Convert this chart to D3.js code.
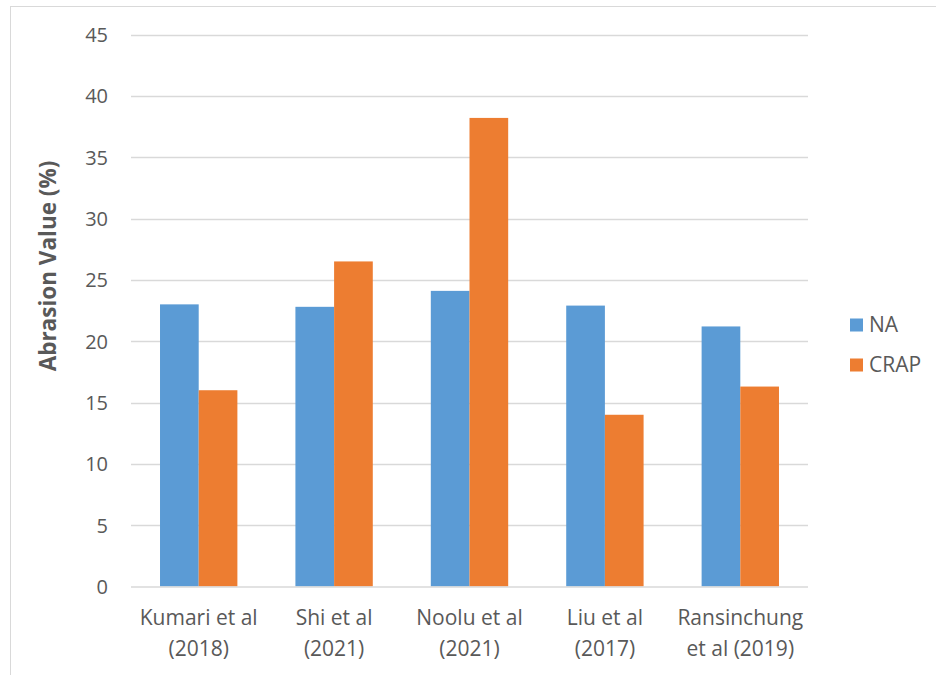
<!DOCTYPE html>
<html>
<head>
<meta charset="utf-8">
<script src="https://cdn.jsdelivr.net/npm/d3@7/dist/d3.min.js"></script>
<style>
  html, body { margin: 0; padding: 0; background: #fff; }
  svg { display: block; font-family: "Open Sans", "Liberation Sans", sans-serif; }
</style>
</head>
<body>
<svg id="chart" width="936" height="675"></svg>
<script>
// Studies compared (two-line labels)
const categories = [
  ["Kumari et al", "(2018)"],
  ["Shi et al", "(2021)"],
  ["Noolu et al", "(2021)"],
  ["Liu et al", "(2017)"],
  ["Ransinchung", "et al (2019)"]
];
const seriesNames = ["NA", "CRAP"];
const naValues   = [23.0, 22.8, 24.1, 22.9, 21.2];
const crapValues = [16.0, 26.5, 38.2, 14.0, 16.3];
const yTicks = [0, 5, 10, 15, 20, 25, 30, 35, 40, 45];
const colors = ["#5b9bd5", "#ed7d31"];

const svg = d3.select("#chart");
const W = 936, H = 675;
const plot = { left: 131, right: 808, top: 34.5, bottom: 586.5 };

// Outer chart frame
svg.append("rect")
  .attr("x", 10.5).attr("y", 6.5)
  .attr("width", W + 10).attr("height", H + 10)
  .attr("fill", "#fff").attr("stroke", "#d9d9d9").attr("stroke-width", 1);

const x0 = d3.scaleBand()
  .domain(d3.range(categories.length))
  .range([plot.left, plot.right])
  .paddingInner(0).paddingOuter(0);

const bandW = x0.bandwidth();
const barW = bandW / 3.5;   // gap width 150%

const y = d3.scaleLinear().domain([0, 45]).range([plot.bottom, plot.top]);

// Gridlines
svg.append("g")
  .selectAll("line")
  .data(yTicks.filter(t => t > 0))
  .join("line")
  .attr("x1", plot.left).attr("x2", plot.right)
  .attr("y1", d => Math.round(y(d)) + 0.5).attr("y2", d => Math.round(y(d)) + 0.5)
  .attr("stroke", "#d9d9d9").attr("stroke-width", 1.5);

// Y-axis tick labels
const yAxis = d3.axisLeft(y).tickValues(yTicks).tickSize(0).tickPadding(0);
const gy = svg.append("g")
  .attr("transform", `translate(${108},0)`)
  .call(yAxis);
gy.select(".domain").remove();
gy.selectAll("text")
  .attr("fill", "#595959")
  .style("font-size", "20px")
  .style("font-family", "\"Open Sans\", sans-serif")
  .attr("dy", "0.35em");

// Bars
const series = [naValues, crapValues];
series.forEach((vals, si) => {
  svg.append("g")
    .selectAll("rect")
    .data(vals)
    .join("rect")
    .attr("x", (d, i) => x0(i) + (bandW - 2 * barW) / 2 + si * barW)
    .attr("y", d => y(d))
    .attr("width", barW)
    .attr("height", d => y(0) - y(d))
    .attr("fill", colors[si]);
});

// Category axis line
svg.append("line")
  .attr("x1", plot.left).attr("x2", plot.right)
  .attr("y1", plot.bottom + 0.5).attr("y2", plot.bottom + 0.5)
  .attr("stroke", "#d9d9d9").attr("stroke-width", 1.5);

// Category labels
const catG = svg.append("g");
categories.forEach((lines, i) => {
  const t = catG.append("text")
    .attr("x", x0(i) + bandW / 2)
    .attr("y", 625)
    .attr("text-anchor", "middle")
    .attr("fill", "#595959")
    .style("font-size", "21px");
  lines.forEach((ln, k) => {
    t.append("tspan")
      .attr("x", x0(i) + bandW / 2)
      .attr("dy", k === 0 ? 0 : 31)
      .text(ln);
  });
});

// Y-axis title
svg.append("text")
  .attr("transform", `translate(56,266) rotate(-90)`)
  .attr("text-anchor", "middle")
  .attr("fill", "#595959")
  .style("font-size", "22.5px")
  .style("font-weight", "bold")
  .text("Abrasion Value (%)");

// Legend
const legend = svg.append("g");
seriesNames.forEach((name, i) => {
  const ly = 325 + i * 40;
  legend.append("rect")
    .attr("x", 850).attr("y", ly - 6.5)
    .attr("width", 13).attr("height", 13)
    .attr("fill", colors[i]);
  legend.append("text")
    .attr("x", 869).attr("y", ly)
    .attr("dy", "0.35em")
    .attr("fill", "#595959")
    .style("font-size", "21px")
    .text(name);
});
</script>
</body>
</html>
